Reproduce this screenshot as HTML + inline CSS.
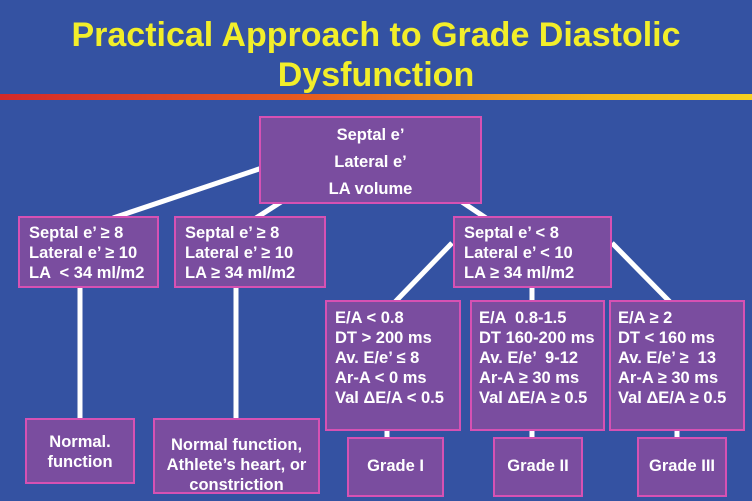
<!DOCTYPE html>
<html><head><style>
body{margin:0;width:752px;height:501px;overflow:hidden;background:#3452a2;font-family:"Liberation Sans",sans-serif;position:relative}
.t{position:absolute;left:0;width:752px;text-align:center;color:#f2ee2a;font-weight:bold;font-size:34px}
.b{position:absolute;box-sizing:border-box;background:#7a4d9f;border:2px solid #d651b3;color:#fff;font-weight:bold;font-size:16.5px;line-height:20px}
svg{position:absolute;left:0;top:0}
</style></head><body>
<div class="t" style="top:16px">Practical Approach to Grade Diastolic</div>
<div class="t" style="top:56px">Dysfunction</div>
<div style="position:absolute;left:0;top:94px;width:752px;height:6px;background:linear-gradient(90deg,#d42a2a,#e85a20 40%,#f2b818 80%,#f5d020)"></div>
<svg width="752" height="501"><g stroke="#fff" stroke-width="5">
<line x1="262" y1="168" x2="113" y2="218"/>
<line x1="281" y1="202" x2="256" y2="218"/>
<line x1="462" y1="202" x2="486" y2="218"/>
<line x1="80" y1="286" x2="80" y2="420"/>
<line x1="236" y1="286" x2="236" y2="420"/>
<line x1="452" y1="243" x2="395" y2="302"/>
<line x1="532" y1="286" x2="532" y2="302"/>
<line x1="612" y1="243" x2="670" y2="302"/>
<line x1="387" y1="430" x2="387" y2="438"/>
<line x1="532" y1="430" x2="532" y2="438"/>
<line x1="677" y1="430" x2="677" y2="438"/>
</g></svg>
<div class="b" style="left:259px;top:116px;width:223px;height:88px;text-align:center;line-height:27px;padding-top:4px">Septal e’<br>Lateral e’<br>LA volume</div>
<div class="b" style="left:18px;top:216px;width:141px;height:72px;padding:5px 0 0 9px">Septal e’ ≥ 8<br>Lateral e’ ≥ 10<br>LA &nbsp;&lt; 34 ml/m2</div>
<div class="b" style="left:174px;top:216px;width:152px;height:72px;padding:5px 0 0 9px">Septal e’ ≥ 8<br>Lateral e’ ≥ 10<br>LA ≥ 34 ml/m2</div>
<div class="b" style="left:453px;top:216px;width:159px;height:72px;padding:5px 0 0 9px">Septal e’ &lt; 8<br>Lateral e’ &lt; 10<br>LA ≥ 34 ml/m2</div>
<div class="b" style="left:325px;top:300px;width:136px;height:131px;padding:6px 0 0 8px">E/A &lt; 0.8<br>DT &gt; 200 ms<br>Av. E/e’ ≤ 8<br>Ar-A &lt; 0 ms<br>Val ΔE/A &lt; 0.5</div>
<div class="b" style="left:470px;top:300px;width:135px;height:131px;padding:6px 0 0 7px">E/A &nbsp;0.8-1.5<br>DT 160-200 ms<br>Av. E/e’ &nbsp;9-12<br>Ar-A ≥ 30 ms<br>Val ΔE/A ≥ 0.5</div>
<div class="b" style="left:609px;top:300px;width:136px;height:131px;padding:6px 0 0 7px">E/A ≥ 2<br>DT &lt; 160 ms<br>Av. E/e’ ≥ &nbsp;13<br>Ar-A ≥ 30 ms<br>Val ΔE/A ≥ 0.5</div>
<div class="b" style="left:347px;top:437px;width:97px;height:60px;text-align:center;padding-top:17px">Grade I</div>
<div class="b" style="left:493px;top:437px;width:90px;height:60px;text-align:center;padding-top:17px">Grade II</div>
<div class="b" style="left:637px;top:437px;width:90px;height:60px;text-align:center;padding-top:17px">Grade III</div>
<div class="b" style="left:25px;top:418px;width:110px;height:66px;text-align:center;padding-top:12px">Normal.<br>function</div>
<div class="b" style="left:153px;top:418px;width:167px;height:76px;text-align:center;padding-top:15px">Normal function,<br>Athlete’s heart, or<br>constriction</div>
</body></html>
